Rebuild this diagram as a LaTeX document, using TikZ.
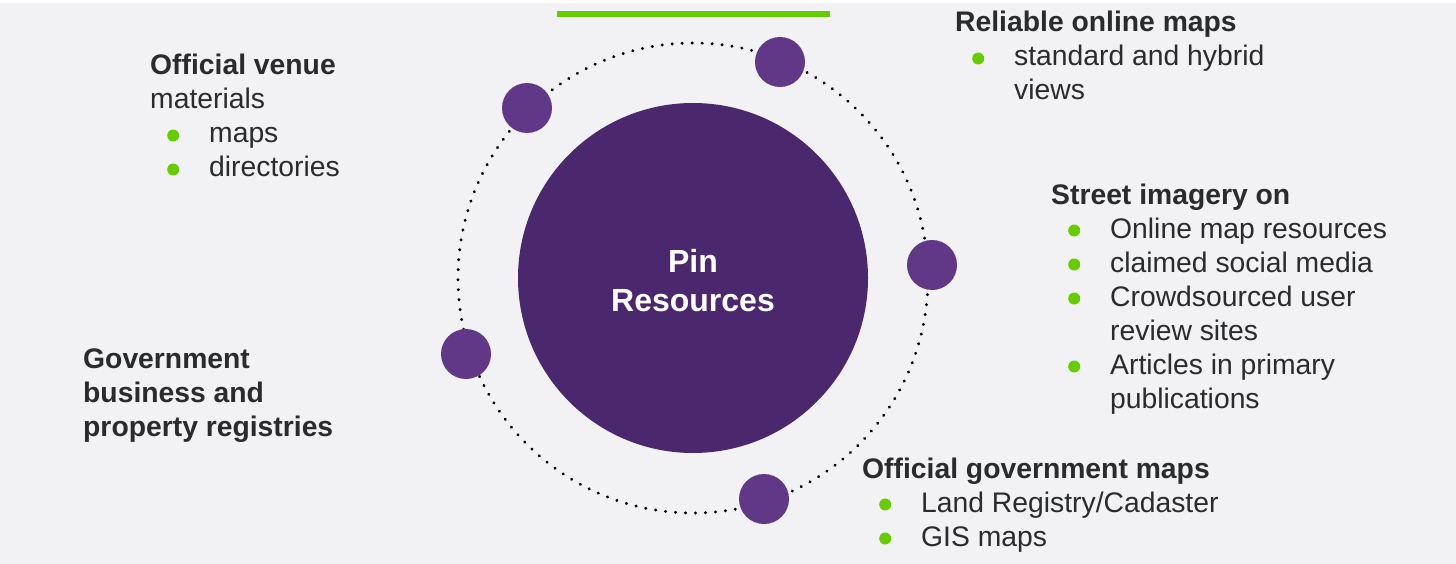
\documentclass[tikz,border=0pt]{standalone}
\usepackage{fontspec}
\setmainfont{Liberation Sans}
\usepackage{tikz}
\definecolor{pinpurple}{rgb}{0.294,0.157,0.427}
\definecolor{orbpurple}{rgb}{0.380,0.220,0.533}
\definecolor{pingreen}{rgb}{0.400,0.800,0.000}
\definecolor{bggray}{rgb}{0.949,0.949,0.957}
\definecolor{txtgray}{rgb}{0.165,0.169,0.176}
\tikzstyle{every node}=[font=\fontsize{28.3}{34}\selectfont,text=txtgray]
\tikzstyle{txtblock}=[anchor=base west,align=left,inner sep=0pt]
\tikzstyle{orbdot}=[circle,fill=orbpurple,minimum size=50pt,inner sep=0pt]
\newcommand{\bul}{\makebox[59pt][l]{\hspace*{17pt}\tikz[baseline=0pt]\fill[pingreen] (6pt,7.5pt) circle (6pt);}}
\newcommand{\cont}{\hspace*{59pt}}

\begin{document}
\begin{tikzpicture}[line cap=round,line join=round,x=1pt,y=-1pt]

\useasboundingbox (0,0) rectangle (1456,564);
\fill[white] (0,0) rectangle (1456,564);
\fill[bggray] (0,3) rectangle (1456,564);
\draw[pingreen,line width=6pt,line cap=butt] (557,14) -- (830,14);

\draw[black,line width=3.2pt,dash pattern=on 0.1pt off 9.9pt] (693,278) circle (235pt);
\node[circle,fill=pinpurple,minimum size=350pt,inner sep=0pt] (core) at (693,278) {};
\node[anchor=base,align=center,text=white,font=\fontsize{32}{39}\selectfont\bfseries] (coretxt) at (693,311) {Pin\\Resources};

\node[orbdot] (dvenue) at (527,108) {};
\node[orbdot] (donline) at (780,62) {};
\node[orbdot] (dstreet) at (932,265) {};
\node[orbdot] (dregistry) at (466,354) {};
\node[orbdot] (dgovmap) at (764,499) {};

\node[txtblock] (venue) at (150,177) {\textbf{Official venue}\\materials\\\bul maps\\\bul directories};
\node[txtblock] (online) at (955,100) {\textbf{Reliable online maps}\\\bul standard and hybrid\\\cont views};
\node[txtblock] (street) at (1051,408) {\textbf{Street imagery on}\\\bul Online map resources\\\bul claimed social media\\\bul Crowdsourced user\\\cont review sites\\\bul Articles in primary\\\cont publications};
\node[txtblock] (registry) at (83,436) {\textbf{Government}\\\textbf{business and}\\\textbf{property registries}};
\node[txtblock] (govmap) at (862,546) {\textbf{Official government maps}\\\bul Land Registry/Cadaster\\\bul GIS maps};

\end{tikzpicture}
\end{document}
